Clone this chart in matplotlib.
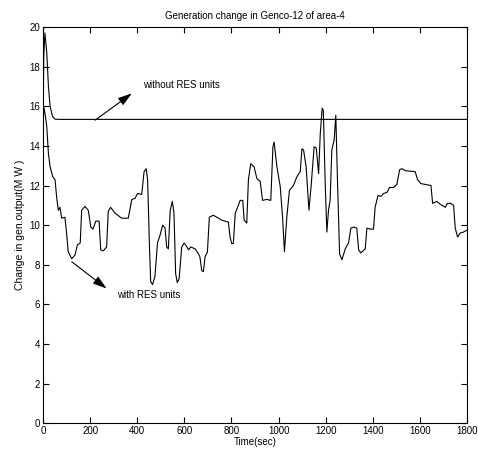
import matplotlib
matplotlib.use('Agg')
import matplotlib.pyplot as plt

plt.rcParams['font.family'] = ['Liberation Sans', 'DejaVu Sans']

# 不含可再生能源机组（without RES units）
t_without = [0, 3, 8, 16, 23, 30, 40, 51, 70, 1800]
p_without = [14.0, 18.5, 19.7, 18.7, 17.0, 16.0, 15.5, 15.35, 15.34, 15.34]

# 含可再生能源机组（with RES units）
t_with = [0, 3, 9, 16, 23, 30, 41, 51, 58, 65, 72, 79, 93, 100, 107, 122, 136, 146, 158,
          164, 178, 192, 203, 212, 224, 238, 245, 256, 270, 277, 287, 306, 334, 362, 377,
          391, 401, 419, 429, 438, 444, 452, 457, 465, 475, 486, 497, 508, 518, 525, 532,
          540, 549, 556, 563, 570, 578, 589, 599, 611, 618, 627, 646, 660, 666, 674, 681,
          688, 698, 706, 723, 738, 759, 787, 794, 801, 808, 816, 826, 837, 848, 854, 865,
          872, 882, 896, 908, 922, 932, 950, 967, 976, 981, 993, 1007, 1017, 1025, 1035,
          1046, 1063, 1078, 1092, 1099, 1106, 1117, 1129, 1138, 1151, 1160, 1170, 1177,
          1185, 1190, 1198, 1205, 1212, 1219, 1226, 1236, 1243, 1250, 1259, 1269, 1283,
          1297, 1307, 1318, 1332, 1340, 1349, 1368, 1375, 1389, 1403, 1410, 1422, 1434,
          1446, 1460, 1471, 1488, 1502, 1514, 1524, 1538, 1580, 1590, 1604, 1647, 1654,
          1672, 1687, 1708, 1717, 1731, 1743, 1750, 1760, 1771, 1785, 1800]
p_with = [14.5, 16.0, 15.6, 14.96, 13.6, 12.95, 12.45, 12.3, 11.4, 10.75, 10.9, 10.35, 10.4,
          9.6, 8.65, 8.3, 8.5, 9.0, 9.1,
          10.75, 10.95, 10.75, 9.9, 9.8, 10.2, 10.2, 8.75, 8.7, 8.9, 10.7, 10.9, 10.6, 10.35,
          10.35, 11.3, 11.35, 11.6, 11.55, 12.7, 12.85, 12.3, 8.9, 7.15, 7.0, 7.4, 9.1, 9.5,
          10.0, 9.85, 8.9, 8.8, 10.75, 11.2, 10.6, 7.55, 7.1, 7.3, 8.9, 9.1, 8.9, 8.75, 8.9,
          8.8, 8.55, 8.4, 7.7, 7.65, 8.4, 8.65, 10.4, 10.5, 10.4, 10.25, 10.15, 9.4, 9.07,
          9.07, 10.6, 10.9, 11.25, 11.25, 10.25, 10.1, 12.3, 13.1, 12.95, 12.35, 12.2, 11.25,
          11.3, 11.25, 13.95, 14.2, 12.95, 11.95, 10.4, 8.65, 10.4, 11.75, 12.0, 12.45, 12.7,
          13.85, 13.8, 12.95, 10.75, 11.95, 13.95, 13.9, 12.6, 14.6, 15.9, 15.8, 12.1, 9.65,
          10.75, 11.25, 13.8, 14.3, 15.55, 12.3, 8.55, 8.25, 8.8, 9.1, 9.85, 9.9, 9.85, 8.75,
          8.6, 8.8, 9.85, 9.8, 9.8, 10.9, 11.5, 11.45, 11.6, 11.65, 11.9, 11.9, 12.05, 12.8,
          12.85, 12.75, 12.7, 12.3, 12.1, 12.0, 11.1, 11.2, 11.05, 10.9, 11.1, 11.1, 11.0,
          9.85, 9.4, 9.6, 9.65, 9.75]

x_ticks = [0, 200, 400, 600, 800, 1000, 1200, 1400, 1600, 1800]
y_ticks = [0, 2, 4, 6, 8, 10, 12, 14, 16, 18, 20]

fig = plt.figure(figsize=(4.78, 4.59), dpi=100)
ax = fig.add_axes([0.090, 0.078, 0.887, 0.863])

ax.plot(t_without, p_without, color='black', linewidth=0.8)
ax.plot(t_with, p_with, color='black', linewidth=0.8)

ax.set_xlim(0, 1800)
ax.set_ylim(0, 20)
ax.set_xticks(x_ticks)
ax.set_yticks(y_ticks)
ax.tick_params(direction='in', top=True, right=True, labelsize=7, length=4, width=0.8, pad=2)
for s in ax.spines.values():
    s.set_linewidth(0.8)

ax.set_title('Generation change in Genco-12 of area-4', fontsize=7, pad=6)
ax.set_xlabel('Time(sec)', fontsize=7, labelpad=1)
ax.set_ylabel('Change in gen.output(M W )', fontsize=7.5, labelpad=3)

arrow = dict(arrowstyle='-|>,head_length=0.7,head_width=0.22', color='black',
             linewidth=0.8, mutation_scale=12, shrinkA=0, shrinkB=0)
ax.annotate('', xy=(377, 16.65), xytext=(221, 15.3), arrowprops=arrow)
ax.text(425, 17.07, 'without RES units', fontsize=7, va='center', ha='left')
ax.annotate('', xy=(270, 6.8), xytext=(122, 8.15), arrowprops=arrow)
ax.text(314, 6.46, 'with RES units', fontsize=7, va='center', ha='left')

fig.savefig('out.png', dpi=100)
